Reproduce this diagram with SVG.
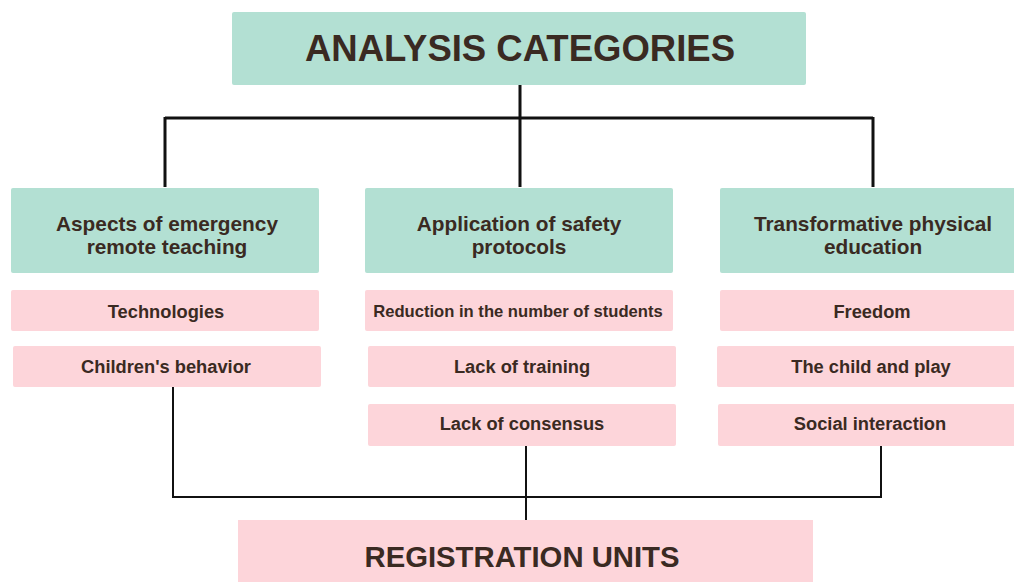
<svg xmlns="http://www.w3.org/2000/svg" width="1014" height="582" viewBox="0 0 1014 582">
<style>
.green{fill:#b3e0d3}
.pink{fill:#fdd5da}
text{font-family:"Liberation Sans",Arial,sans-serif;font-weight:bold;fill:#3a2a22;text-anchor:middle}
.h{font-size:36.5px}
.c{font-size:20.8px}
.s{font-size:18.3px}
.thick{stroke:#111;stroke-width:3;fill:none}
.thin{stroke:#111;stroke-width:2;fill:none}
</style>
<rect width="1014" height="582" fill="#ffffff"/>
<g id="connectors">
<path class="thick" d="M520 85V187M165 118H873M165 117V187M873 117V187"/>
<path class="thin" d="M173 387V497H881V446M526 446V520"/>
</g>
<g id="analysis-categories"><rect class="green" x="232" y="12" width="574" height="73" rx="2"/><text class="h" x="520" y="61">ANALYSIS CATEGORIES</text></g>
<g id="cat-aspects"><rect class="green" x="11" y="188" width="308" height="85" rx="2"/><text class="c" x="167" y="231">Aspects of emergency</text><text class="c" x="167" y="254">remote teaching</text></g>
<g id="cat-safety"><rect class="green" x="365" y="188" width="308" height="85" rx="2"/><text class="c" x="519" y="231">Application of safety</text><text class="c" x="519" y="254">protocols</text></g>
<g id="cat-transformative"><rect class="green" x="720" y="188" width="300" height="85" rx="2"/><text class="c" x="873" y="231">Transformative physical</text><text class="c" x="873" y="254">education</text></g>
<g id="u-technologies"><rect class="pink" x="11" y="290" width="308" height="41" rx="2"/><text class="s" x="166" y="318">Technologies</text></g>
<g id="u-children"><rect class="pink" x="13" y="346" width="308" height="41" rx="2"/><text class="s" x="166" y="373">Children's behavior</text></g>
<g id="u-reduction"><rect class="pink" x="365" y="290" width="308" height="41" rx="2"/><text x="518" y="317" style="font-size:16.6px">Reduction in the number of students</text></g>
<g id="u-training"><rect class="pink" x="368" y="346" width="308" height="41" rx="2"/><text class="s" x="522" y="373">Lack of training</text></g>
<g id="u-consensus"><rect class="pink" x="368" y="404" width="308" height="42" rx="2"/><text class="s" x="522" y="430">Lack of consensus</text></g>
<g id="u-freedom"><rect class="pink" x="720" y="290" width="300" height="41" rx="2"/><text class="s" x="872" y="318">Freedom</text></g>
<g id="u-child-play"><rect class="pink" x="717" y="346" width="303" height="41" rx="2"/><text class="s" x="871" y="373">The child and play</text></g>
<g id="u-social"><rect class="pink" x="718" y="404" width="302" height="42" rx="2"/><text class="s" x="870" y="430">Social interaction</text></g>
<g id="registration-units"><rect class="pink" x="238" y="520" width="575" height="70"/><text x="522" y="567" style="font-size:29px" textLength="315" lengthAdjust="spacingAndGlyphs">REGISTRATION UNITS</text></g>
</svg>
